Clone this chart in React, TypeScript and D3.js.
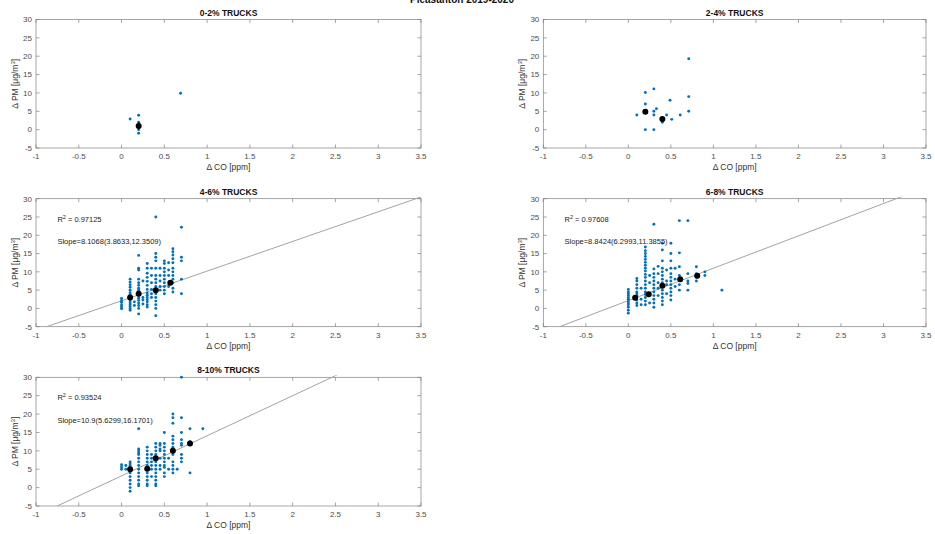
import React from "react";
import * as d3 from "d3";

// ---- chart text and values ----
const figureTitle = "Pleasanton 2019-2020";
const panelTitles = ["0-2% TRUCKS", "2-4% TRUCKS", "4-6% TRUCKS", "6-8% TRUCKS", "8-10% TRUCKS"];
const xTicks = [-1, -0.5, 0, 0.5, 1, 1.5, 2, 2.5, 3, 3.5];
const yTicks = [-5, 0, 5, 10, 15, 20, 25, 30];

// raw samples grouped by ΔCO value: [ΔCO, ΔPM values]
const cols02: [number, number[]][] = [
  [0.1, [2.9]],
  [0.2, [3.9, 2, 1.5, 1, 0.5, 0, -1]],
  [0.69, [9.9]],
];
const cols24: [number, number[]][] = [
  [0.1, [4]],
  [0.2, [10.1, 7, 4.8, 0]],
  [0.3, [11.1, 5, 4, 0]],
  [0.33, [5.7]],
  [0.4, [2.5, 2, 2.9]],
  [0.45, [4]],
  [0.49, [8]],
  [0.51, [2.8]],
  [0.61, [4]],
  [0.71, [19.3, 9, 5]],
];
const cols46: [number, number[]][] = [
  [0, [2.7, 2.1, 1.6, 0.9, 0.4, -0.1]],
  [0.1, [8, 7.2, 6.5, 5.8, 5, 4.3, 3.8, 3.2, 2.5, 2, 1.5, 1, 0.5, 0, -0.5]],
  [0.15, [1.8, 0.8]],
  [0.2, [14.5, 11, 10.5, 8, 7, 6.3, 5.5, 5, 4.5, 3.5, 2.8, 2.2, 1.5, 0.8, 0, -1.5]],
  [0.25, [7.5, 3, 2.3, 1.2]],
  [0.3, [12.3, 11, 9.6, 8.5, 7.4, 6.3, 5.2, 4.2, 3.6, 3, 2.4, 1.8, 1, 0.4]],
  [0.35, [11, 9, 7, 5.2, 4, 3]],
  [0.4, [25, 15, 14, 13, 11, 9, 8, 7, 6, 4, 3, 2, 1, 0, -2]],
  [0.45, [11, 9, 7.5, 6, 5]],
  [0.5, [13, 12.3, 11, 10, 9, 8, 7, 6, 5, 4]],
  [0.55, [12.5, 10.5, 9, 6]],
  [0.6, [16.3, 15.5, 14.6, 13.6, 12.5, 11, 10, 9, 8, 7, 5.5, 4.5]],
  [0.7, [22.2, 14, 13, 8, 4]],
];
const cols68: [number, number[]][] = [
  [0, [5.2, 4.5, 4, 3.5, 3, 2.5, 2, 1.5, 1, 0.3, -0.5, -1.3]],
  [0.1, [8.2, 7.5, 6.5, 5.5, 4.5, 4, 3.5, 3, 2.3, 1.5, 0.8]],
  [0.15, [5.5, 2.5, 1]],
  [0.2, [16.8, 15.8, 15, 14.2, 13.4, 12.6, 11.8, 11, 10.2, 9.3, 8.5, 7.5, 6.5, 5.5, 4.5, 3.8, 3, 2, 1]],
  [0.25, [9, 7, 4, 1.5]],
  [0.3, [23, 10.8, 9.5, 8.5, 7.5, 6.5, 5.5, 4.5, 3.5, 2.5, 1.5, 0.3]],
  [0.35, [11.5, 9.5, 7, 5.5, 3.5]],
  [0.4, [17.8, 16, 13, 11, 10, 9, 8, 7, 6, 5, 4, 3, 2, 1]],
  [0.45, [10.5, 7.5, 6.5, 4]],
  [0.5, [17.8, 15, 13, 11, 9.5, 8.5, 7.5, 6.5, 5.5, 4.5, 3.5, 2.3]],
  [0.55, [11, 8, 6]],
  [0.6, [24, 15.2, 11.4, 9, 7.7, 6.5, 5]],
  [0.7, [24, 9.5, 7.5, 6.8, 5]],
  [0.8, [11.4, 9.5, 8.5, 7.5]],
  [0.9, [10, 9]],
  [1.1, [5]],
];
const cols810: [number, number[]][] = [
  [0, [6.2, 5.6, 5]],
  [0.05, [6, 5]],
  [0.1, [7, 6.5, 6, 5.5, 5, 4.5, 4, 3, 2, 1, 0, -1]],
  [0.2, [16, 10.5, 10, 9.5, 9, 8, 7, 6, 5, 4, 3, 2, 1, 0.5]],
  [0.3, [11, 10, 9, 8, 7, 6, 5, 4, 3, 2, 1, 0.5]],
  [0.35, [9, 8, 7, 6, 5, 3]],
  [0.4, [12, 11, 10, 9, 8, 7, 6, 5, 4, 3, 2, 1, 0.5]],
  [0.45, [12, 11.5, 10.5, 10, 8, 6, 5]],
  [0.5, [15, 12, 11, 10, 9, 8, 7, 6, 5.5, 4, 3]],
  [0.55, [8, 5]],
  [0.6, [20, 19, 17.5, 14, 13, 12, 11, 10, 9, 7, 6, 5, 4]],
  [0.65, [5]],
  [0.7, [30, 19, 15, 13, 12, 11.5, 9, 8, 7]],
  [0.8, [16, 12.5, 4]],
  [0.95, [16]],
];

// binned means: [ΔCO, mean ΔPM, error]
const means02: [number, number, number][] = [[0.2, 1, 1]];
const means24: [number, number, number][] = [[0.2, 4.9, 0.3], [0.4, 2.9, 0.4]];
const means46: [number, number, number][] = [[0.1, 3, 0.3], [0.2, 4, 0.3], [0.4, 5, 0.3], [0.57, 7, 0.3]];
const means68: [number, number, number][] = [[0.08, 2.9, 0.3], [0.24, 3.9, 0.3], [0.4, 6.2, 0.3], [0.61, 8, 0.3], [0.81, 8.9, 0.3]];
const means810: [number, number, number][] = [[0.1, 5, 0.3], [0.3, 5.1, 0.3], [0.4, 8, 0.3], [0.6, 10, 0.3], [0.8, 12, 0.3]];

// linear fits (null where no fit is drawn)
const fitSlopes = [null, null, 8.1068, 8.8424, 10.9];
const fitIntercepts = [null, null, 2.1, 2.15, 3.2];
const r2Labels = [null, null, "0.97125", "0.97608", "0.93524"];
const slopeLabels = [null, null, "Slope=8.1068(3.8633,12.3509)", "Slope=8.8424(6.2993,11.3855)", "Slope=10.9(5.6299,16.1701)"];

const allCols = [cols02, cols24, cols46, cols68, cols810];
const allMeans = [means02, means24, means46, means68, means810];

// ---- layout ----
const W = 935;
const H = 534;
const colX: [number, number][] = [[36, 421], [543.3, 926]];
const rowY: [number, number][] = [[19.5, 148], [198.7, 326.7], [377.3, 506]];
const FONT = "'Liberation Sans', Arial, Helvetica, sans-serif";
const AXIS = "#808080";
const TICKTXT = "#4d4d4d";
const BLUE = "#0072BD";

function Panel({ idx }: { idx: number }) {
  const [x0, x1] = colX[idx % 2];
  const [y0, y1] = rowY[Math.floor(idx / 2)];
  const x = d3.scaleLinear().domain([-1, 3.5]).range([x0, x1]);
  const y = d3.scaleLinear().domain([-5, 30]).range([y1, y0]);
  const cx = (x0 + x1) / 2;
  const cy = (y0 + y1) / 2;
  const tl = 3.5;
  const pts = allCols[idx].flatMap(([cx0, ys]) => ys.map((v) => [cx0, v] as [number, number]));
  const means = allMeans[idx];
  const slope = fitSlopes[idx];
  const icpt = fitIntercepts[idx];
  const clipId = `clip${idx}`;
  const fitLine =
    slope != null && icpt != null
      ? d3
          .line<number>()
          .x((d) => x(d))
          .y((d) => y(slope * d + (icpt as number)))([-1, 3.5])
      : null;

  return (
    <g>
      <defs>
        <clipPath id={clipId}>
          <rect x={x0} y={y0 - 2} width={x1 - x0} height={y1 - y0 + 2} />
        </clipPath>
      </defs>
      {/* frame */}
      <rect x={x0} y={y0} width={x1 - x0} height={y1 - y0} fill="#fff" stroke={AXIS} strokeWidth={0.7} />
      {/* x ticks (bottom and top, inward) */}
      {xTicks.map((t) => (
        <g key={`xt${t}`}>
          <line x1={x(t)} x2={x(t)} y1={y1} y2={y1 - tl} stroke={AXIS} strokeWidth={0.7} />
          <line x1={x(t)} x2={x(t)} y1={y0} y2={y0 + tl} stroke={AXIS} strokeWidth={0.7} />
          <text x={x(t)} y={y1 + 11} textAnchor="middle" fontSize={8} fill={TICKTXT} fontFamily={FONT}>
            {String(t)}
          </text>
        </g>
      ))}
      {/* y ticks (left and right, inward) */}
      {yTicks.map((t) => (
        <g key={`yt${t}`}>
          <line x1={x0} x2={x0 + tl} y1={y(t)} y2={y(t)} stroke={AXIS} strokeWidth={0.7} />
          <line x1={x1} x2={x1 - tl} y1={y(t)} y2={y(t)} stroke={AXIS} strokeWidth={0.7} />
          <text x={x0 - 4} y={y(t) + 2.8} textAnchor="end" fontSize={8} fill={TICKTXT} fontFamily={FONT}>
            {String(t)}
          </text>
        </g>
      ))}
      {/* fit line */}
      {fitLine && (
        <path d={fitLine} fill="none" stroke="#a3a3a3" strokeWidth={1} clipPath={`url(#${clipId})`} />
      )}
      {/* samples */}
      <g clipPath={`url(#${clipId})`}>
        {pts.map(([px, py], i) => (
          <circle key={i} cx={x(px)} cy={y(py)} r={1.45} fill={BLUE} />
        ))}
      </g>
      {/* binned means with error bars */}
      {means.map(([mx, my, e], i) => (
        <g key={`m${i}`}>
          <line x1={x(mx)} x2={x(mx)} y1={y(my - e)} y2={y(my + e)} stroke="#000" strokeWidth={1} />
          <circle cx={x(mx)} cy={y(my)} r={3} fill="#000" />
        </g>
      ))}
      {/* annotations */}
      {r2Labels[idx] && (
        <text x={x(-0.75)} y={y(24.4) + 2.6} fontSize={7.5} fill="#222" fontFamily={FONT}>
          R<tspan dy={-3} fontSize={5.5}>2</tspan>
          <tspan dy={3}>{` = ${r2Labels[idx]}`}</tspan>
        </text>
      )}
      {slopeLabels[idx] && (
        <text x={x(-0.75)} y={y(18.2) + 2.6} fontSize={7.5} fill="#222" fontFamily={FONT}>
          {slopeLabels[idx]}
        </text>
      )}
      {/* titles */}
      <text x={cx} y={y0 - 4} textAnchor="middle" fontSize={8.5} fontWeight="bold" fill="#111" fontFamily={FONT}>
        {panelTitles[idx]}
      </text>
      <text x={cx} y={y1 + 22} textAnchor="middle" fontSize={8.5} fill="#333" fontFamily={FONT}>
        Δ CO [ppm]
      </text>
      <text
        transform={`translate(${x0 - 18},${cy}) rotate(-90)`}
        textAnchor="middle"
        fontSize={8.5}
        fill="#333"
        fontFamily={FONT}
      >
        Δ PM [μg/m<tspan dy={-3} fontSize={6}>3</tspan>
        <tspan dy={3}>]</tspan>
      </text>
    </g>
  );
}

export default function App() {
  return (
    <svg
      width={W}
      height={H}
      viewBox={`0 0 ${W} ${H}`}
      style={{ position: "absolute", left: 0, top: 0, background: "#fff" }}
    >
      <rect x={0} y={0} width={W} height={H} fill="#fff" />
      {/* figure title sits against the top edge, as in the exported figure */}
      <text x={462} y={3} textAnchor="middle" fontSize={10} fontWeight="bold" fill="#111" fontFamily={FONT}>
        {figureTitle}
      </text>
      {panelTitles.map((_, i) => (
        <Panel key={i} idx={i} />
      ))}
    </svg>
  );
}
